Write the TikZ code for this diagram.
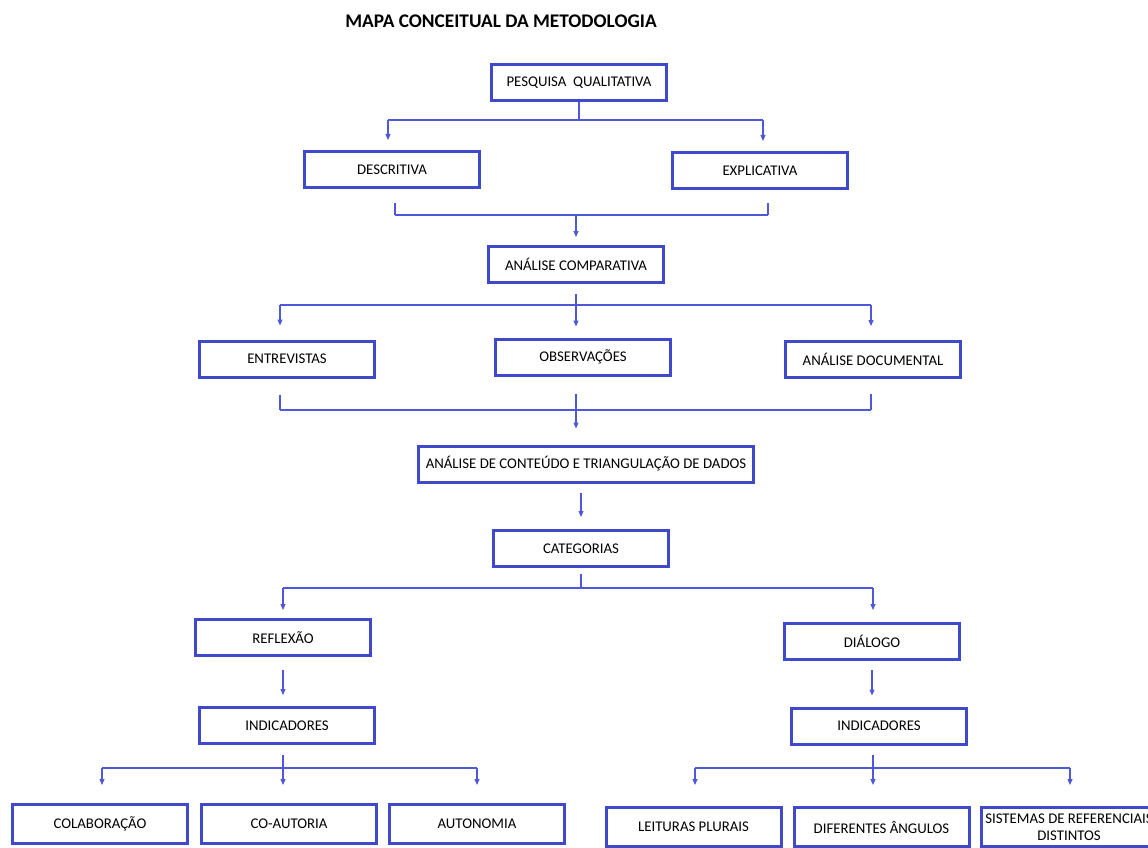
\documentclass[tikz,border=0pt]{standalone}
\usepackage{fontspec}
\setmainfont{Carlito}
\usetikzlibrary{arrows.meta}

\definecolor{boxblue}{RGB}{64,72,204}
\definecolor{lineblue}{RGB}{78,88,216}

\tikzset{
  box/.style={draw=boxblue, line width=3pt, minimum width=175pt, minimum height=36pt,
    inner sep=2pt, align=center, font=\fontsize{14.8}{17}\selectfont},
  link/.style={draw=lineblue, line width=1.1pt},
  arr/.style={link, -{Triangle[length=6pt,width=5pt]}}
}

\begin{document}
\begin{tikzpicture}[x=1pt,y=-1pt]

        \useasboundingbox (0,0) rectangle (1148,848);

        \node[font=\bfseries\fontsize{19.3}{21}\selectfont] (title) at (501,21) {MAPA CONCEITUAL DA METODOLOGIA};

        \begin{scope}[every node/.style={box}]
          \node (pq)    at (579,83)    {PESQUISA\ \ QUALITATIVA};
          \node (desc)  at (392,169.5) {DESCRITIVA};
          \node (expl)  at (760,170.5) {EXPLICATIVA};
          \node (comp)  at (576,264.5) {ANÁLISE COMPARATIVA};
          \node (entr)  at (287,359)   {ENTREVISTAS};
          \node (obs)   at (583,357)   {OBSERVAÇÕES};
          \node (doc)   at (873,359.5) {ANÁLISE DOCUMENTAL};
          \node[minimum width=335pt] (cont) at (586,464) {ANÁLISE DE CONTEÚDO E TRIANGULAÇÃO DE DADOS};
          \node (cat)   at (581,548.5) {CATEGORIAS};
          \node (refl)  at (283,637.5) {REFLEXÃO};
          \node (dial)  at (872,641.5) {DIÁLOGO};
          \node (indl)  at (287,725.5) {INDICADORES};
          \node (indr)  at (879,726)   {INDICADORES};
        \end{scope}

        \begin{scope}[every node/.style={box, minimum height=39pt}]
          \node (colab) at (100,824)   {COLABORAÇÃO};
          \node (coaut) at (289,824)   {CO-AUTORIA};
          \node (auton) at (477,824)   {AUTONOMIA};
          \node (leit)  at (693.5,827) {LEITURAS PLURAIS};
          \node (dif)   at (881.5,827) {DIFERENTES ÂNGULOS};
          \node (sist)  at (1069,827)  {SISTEMAS DE REFERENCIAIS\\DISTINTOS};
        \end{scope}

        % bus lines
        \coordinate (b1l) at (388,120);
        \coordinate (b1r) at (763,120);
        \coordinate (b2l) at (395,215);
        \coordinate (b2r) at (768,215);
        \coordinate (b3l) at (280,305);
        \coordinate (b3r) at (871,305);
        \coordinate (b4l) at (280,410);
        \coordinate (b4r) at (871,410);
        \coordinate (b6l) at (283,588);
        \coordinate (b6r) at (873,588);
        \coordinate (b8l) at (102,768);
        \coordinate (b8r) at (477,768);
        \coordinate (b9l) at (695,768);
        \coordinate (b9r) at (1070,768);

        \draw[link] (pq) -- (pq |- b1l);
        \draw[link] (b1l) -- (b1r);
        \draw[arr, shorten >=10pt] (b1l) -- (b1l |- desc.north);
        \draw[arr, shorten >=10pt] (b1r) -- (b1r |- expl.north);

        \draw[link, shorten <=14pt] (b2l |- desc.south) -- (b2l);
        \draw[link, shorten <=13pt] (b2r |- expl.south) -- (b2r);
        \draw[link] (b2l) -- (b2r);
        \draw[arr, shorten >=8pt] (comp |- b2l) -- (comp.north);

        \draw[arr, shorten <=10pt, shorten >=11pt] (comp.south) -- (comp.south |- obs.north);
        \draw[link] (b3l) -- (b3r);
        \draw[arr, shorten >=14pt] (b3l) -- (b3l |- entr.north);
        \draw[arr, shorten >=14pt] (b3r) -- (b3r |- doc.north);

        \draw[link, shorten <=16pt] (b4l |- entr.south) -- (b4l);
        \draw[link, shorten <=15pt] (b4r |- doc.south) -- (b4r);
        \draw[link] (b4l) -- (b4r);
        \draw[arr, shorten <=17pt, shorten >=16pt] (comp |- obs.south) -- (comp |- cont.north);

        \draw[arr, shorten <=9pt, shorten >=12pt] (cat |- cont.south) -- (cat.north);

        \draw[link, shorten <=6pt] (cat.south) -- (cat.south |- b6l);
        \draw[link] (b6l) -- (b6r);
        \draw[arr, shorten >=8pt] (b6l) -- (b6l |- refl.north);
        \draw[arr, shorten >=12pt] (b6r) -- (b6r |- dial.north);

        \draw[arr, shorten <=13pt, shorten >=11pt] (refl.south) -- (refl.south |- indl.north);
        \draw[arr, shorten <=9pt, shorten >=11pt] (dial.south) -- (dial.south |- indr.north);

        \draw[arr, shorten <=10pt, shorten >=18pt] (b6l |- indl.south) -- (b6l |- coaut.north);
        \draw[link] (b8l) -- (b8r);
        \draw[arr, shorten >=18pt] (b8l) -- (b8l |- colab.north);
        \draw[arr, shorten >=18pt] (b8r) -- (b8r |- auton.north);

        \draw[arr, shorten <=9pt, shorten >=21pt] (b6r |- indr.south) -- (b6r |- dif.north);
        \draw[link] (b9l) -- (b9r);
        \draw[arr, shorten >=21pt] (b9l) -- (b9l |- leit.north);
        \draw[arr, shorten >=21pt] (b9r) -- (b9r |- sist.north);

      \end{tikzpicture}
\end{document}
